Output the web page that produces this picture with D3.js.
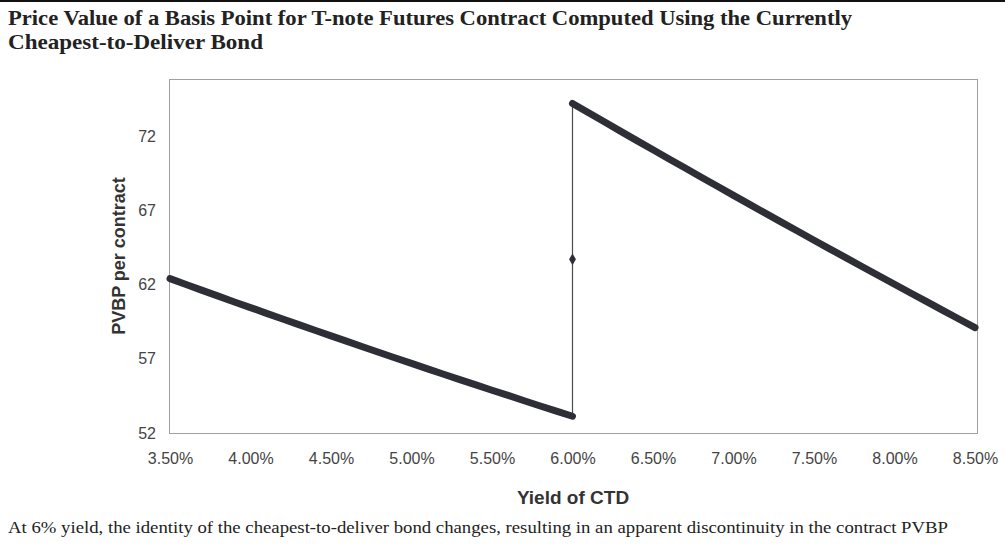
<!DOCTYPE html>
<html><head><meta charset="utf-8">
<script src="https://cdn.jsdelivr.net/npm/d3@7"></script>
<style>body{margin:0;background:#fff;} svg{display:block;}</style>
</head><body>
<svg id="c" width="1005" height="547"></svg>
<script>
const titleLines = ["Price Value of a Basis Point for T-note Futures Contract Computed Using the Currently", "Cheapest-to-Deliver Bond"];
const caption = "At 6% yield, the identity of the cheapest-to-deliver bond changes, resulting in an apparent discontinuity in the contract PVBP";
const xLabel = "Yield of CTD";
const yLabel = "PVBP per contract";
const xTicks = [3.5, 4.0, 4.5, 5.0, 5.5, 6.0, 6.5, 7.0, 7.5, 8.0, 8.5];
const yTicks = [52, 57, 62, 67, 72];

// Old CTD bond (yield below 6%)
const leftYields = [3.5,3.6,3.7,3.8,3.9,4.0,4.1,4.2,4.3,4.4,4.5,4.6,4.7,4.8,4.9,5.0,5.1,5.2,5.3,5.4,5.5,5.6,5.7,5.8,5.9,6.0];
const leftPVBP = [62.40,62.01,61.61,61.22,60.83,60.45,60.06,59.68,59.30,58.92,58.54,58.17,57.79,57.42,57.05,56.69,56.32,55.96,55.60,55.24,54.88,54.53,54.17,53.82,53.47,53.13];
// Transition point at 6%
const midYield = 6.0;
const midPVBP = 63.7;
// New CTD bond (yield 6% and above)
const rightYields = [6.0,6.1,6.2,6.3,6.4,6.5,6.6,6.7,6.8,6.9,7.0,7.1,7.2,7.3,7.4,7.5,7.6,7.7,7.8,7.9,8.0,8.1,8.2,8.3,8.4,8.5];
const rightPVBP = [74.20,73.57,72.95,72.32,71.70,71.08,70.46,69.85,69.23,68.62,68.01,67.40,66.80,66.19,65.59,64.99,64.39,63.80,63.20,62.61,62.02,61.43,60.85,60.26,59.68,59.10];

const svg = d3.select("#c");
svg.append("rect").attr("x",0).attr("y",0).attr("width",1005).attr("height",2).attr("fill","#111");

const serif = "'Liberation Serif','DejaVu Serif',serif";
const titleWidths = [844, 255];
titleLines.forEach((t,i)=>{
  svg.append("text").attr("x",8).attr("y",25+i*24).text(t)
    .attr("font-family",serif).attr("textLength",titleWidths[i]).attr("lengthAdjust","spacingAndGlyphs")
    .attr("font-weight","bold").attr("font-size",21).attr("fill","#222");
});

const box = {l:169, r:977, t:79, b:433};
const x = d3.scaleLinear().domain([3.5, 8.5]).range([170, 975]);
const y = d3.scaleLinear().domain([52, 75.85]).range([box.b, box.t]);

svg.append("rect").attr("x",box.l+0.5).attr("y",box.t+0.5)
  .attr("width",box.r-box.l).attr("height",box.b-box.t)
  .attr("fill","none").attr("stroke","#a0a0a0").attr("stroke-width",1);

const fontSans = "'Liberation Sans',Arial,sans-serif";
const yAxis = d3.axisLeft(y).tickValues(yTicks).tickSize(0).tickPadding(13).tickFormat(d3.format("d"));
const ya = svg.append("g").attr("transform",`translate(${box.l},0)`).call(yAxis);
ya.select(".domain").remove();
ya.selectAll("text").attr("font-family",fontSans).attr("font-size",16).attr("fill","#444");

const xAxis = d3.axisBottom(x).tickValues(xTicks).tickSize(0).tickPadding(20).tickFormat(d=>d.toFixed(2)+"%");
const xa = svg.append("g").attr("transform",`translate(0,${box.b})`).call(xAxis);
xa.select(".domain").remove();
xa.selectAll("text").attr("font-family",fontSans).attr("font-size",16).attr("fill","#444");

svg.append("text").attr("x",573).attr("y",504).attr("text-anchor","middle")
  .attr("font-family",fontSans).attr("font-weight","bold").attr("font-size",19).attr("fill","#333").text(xLabel);
svg.append("text").attr("transform","translate(125,256) rotate(-90)").attr("text-anchor","middle")
  .attr("font-family",fontSans).attr("font-weight","bold").attr("font-size",18).attr("fill","#333").text(yLabel);

svg.append("text").attr("x",8).attr("y",533).text(caption)
  .attr("font-family",serif).attr("font-size",16).attr("textLength",940).attr("lengthAdjust","spacingAndGlyphs").attr("fill","#222");

// series
const left = leftYields.map((v,i)=>({x:v, y:leftPVBP[i]}));
const right = rightYields.map((v,i)=>({x:v, y:rightPVBP[i]}));
const mid = {x:midYield, y:midPVBP};
const all = left.concat([mid]).concat(right);
const line = d3.line().x(d=>x(d.x)).y(d=>y(d.y));

svg.append("path").attr("d",line(all)).attr("fill","none").attr("stroke","#4a4a55").attr("stroke-width",1.2);
[left, right].forEach(seg=>{
  svg.append("path").attr("d",line(seg)).attr("fill","none").attr("stroke","#2e2e36")
    .attr("stroke-width",7).attr("stroke-linecap","round");
});
svg.append("path").attr("transform",`translate(${x(mid.x)},${y(mid.y)})`)
  .attr("d",d3.symbol().type(d3.symbolDiamond).size(40)).attr("fill","#2e2e36");
</script>
</body></html>
